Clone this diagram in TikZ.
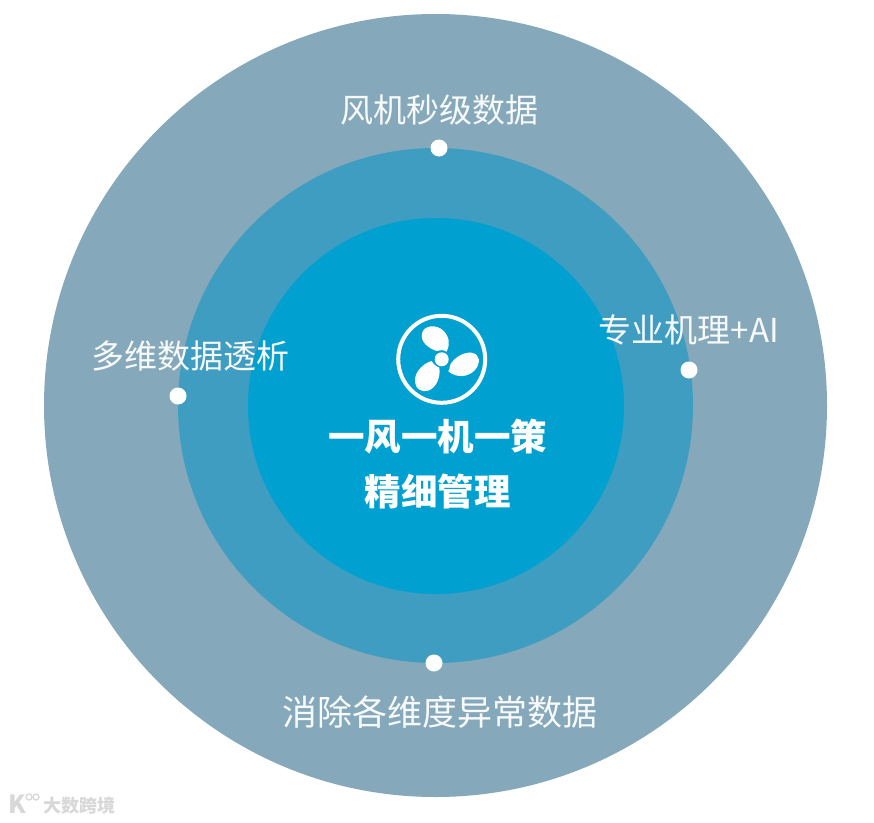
\documentclass[tikz,border=0pt]{standalone}
\usepackage{fontspec}
\setmainfont{Noto Sans CJK SC}
\definecolor{ringout}{HTML}{85A9BA}
\definecolor{ringmid}{HTML}{3E9DC0}
\definecolor{ringin}{HTML}{00A0D0}
\definecolor{wm}{HTML}{D8D8D8}
\tikzset{
  disc/.style={circle,fill=#1,draw=none,inner sep=0pt},
  dotm/.style={circle,fill=white,draw=none,minimum size=17pt,inner sep=0pt},
  lab/.style={text=white!93!ringout,font=\fontsize{33}{36}\selectfont,inner sep=0pt,anchor=center},
  title/.style={text=white,font=\fontsize{36.5}{40}\selectfont\bfseries,inner sep=0pt,anchor=center},
}
\begin{document}
\begin{tikzpicture}[x=1pt,y=-1pt]
\useasboundingbox[fill=white] (0,0) rectangle (874,822);
\node[disc=ringout,minimum size=783pt] (outer) at (435.5,405.5) {};
\node[disc=ringmid,minimum size=515pt] (middle) at (435.5,405.5) {};
\node[disc=ringin,minimum size=376pt] (inner) at (436,406) {};
% fan
\node[circle,draw=white,line width=4pt,fill=none,minimum size=87pt,inner sep=0pt] (fanring) at (441.7,359.3) {};
\node[circle,fill=white,minimum size=14pt,inner sep=0pt] (fanhub) at (441.7,359.3) {};
\begin{scope}[shift={(320,300)},x=0.3333pt,y=-0.3333pt]
\fill[white] (350,153) .. controls (325,145) and (300,125) .. (306,100)
  .. controls (312,75) and (350,72) .. (370,92)
  .. controls (390,112) and (390,135) .. (380,155)
  .. controls (370,149) and (360,149) .. (350,153) -- cycle;
\fill[white] (390,196) .. controls (400,175) and (430,155) .. (455,158)
  .. controls (482,163) and (482,190) .. (465,210)
  .. controls (445,232) and (410,235) .. (385,214)
  .. controls (388,208) and (390,202) .. (390,196) -- cycle;
\fill[white] (335,183) .. controls (310,190) and (285,215) .. (285,240)
  .. controls (285,268) and (305,278) .. (325,272)
  .. controls (350,262) and (362,232) .. (358,203)
  .. controls (350,200) and (340,193) .. (335,183) -- cycle;
\end{scope}
% titles
\node[title] (t1) at (437.5,437) {一风一机一策};
\node[title] (t2) at (437.5,491) {精细管理};
% labels
\node[lab] (l1) at (439,110) {风机秒级数据};
\node[lab] (l2) at (190.5,356) {多维数据透析};
\node[lab] (l3) at (689,330) {专业机理+AI};
\node[lab,font=\fontsize{35}{38}\selectfont] (l4) at (439.5,712) {消除各维度异常数据};
% dots
\node[dotm] (d1) at (439,148) {};
\node[dotm] (d2) at (178,396) {};
\node[dotm] (d3) at (689,370) {};
\node[dotm] (d4) at (434,663) {};
% watermark
\node[text=wm,font=\fontsize{18}{20}\selectfont\bfseries,inner sep=0pt] (wm1) at (79,806) {大数跨境};
\node[text=wm,font=\fontsize{25}{26}\selectfont\bfseries,inner sep=0pt] (wm2) at (17,804) {K};
\node[circle,draw=wm,line width=1.3pt,minimum size=6pt,inner sep=0pt] (wm3) at (29,797) {};
\node[circle,draw=wm,line width=1.3pt,minimum size=6pt,inner sep=0pt] (wm4) at (36,797) {};
\end{tikzpicture}
\end{document}
